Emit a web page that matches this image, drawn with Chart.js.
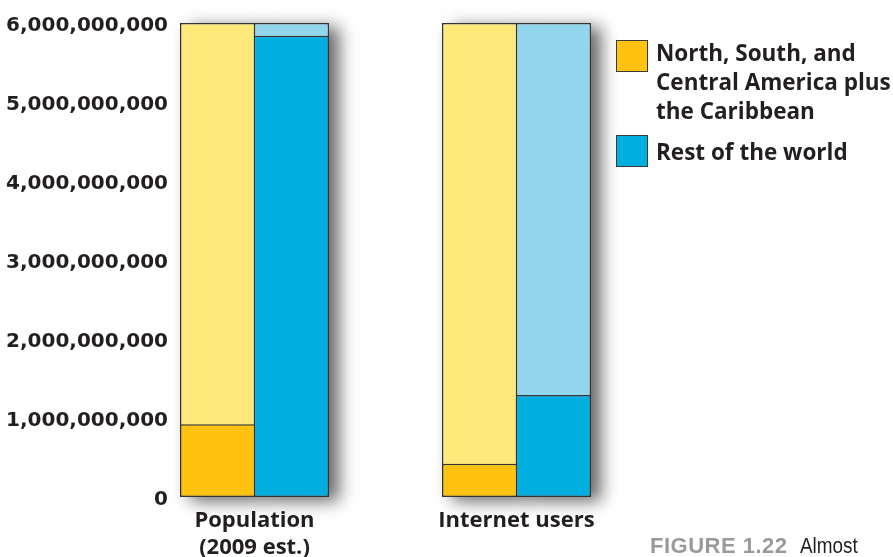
<!DOCTYPE html>
<html>
<head>
<meta charset="utf-8">
<script src="https://cdn.jsdelivr.net/npm/chart.js@4"></script>
<style>
  html, body { margin: 0; padding: 0; background: #fff; }
  #wrap { position: relative; width: 893px; height: 557px; overflow: hidden; }
  canvas { position: absolute; left: 0; top: 0; }
  .lg-box { position: absolute; width: 30px; height: 30px; border: 1.5px solid #3a3a3a; }
  .lg-text { position: absolute; font-family: "Open Sans", sans-serif; font-weight: 700; font-size: 22.5px; line-height: 29px; color: #231f20; white-space: nowrap; }
  #caption { position: absolute; left: 650px; top: 533px; white-space: nowrap; font-size: 22px; }
  #caption .fig { font-family: "Liberation Sans", Arial, sans-serif; font-weight: 700; color: #9a9a9a; letter-spacing: 0.5px; }
  #caption .txt { display: inline-block; font-family: "Liberation Sans", Arial, sans-serif; color: #231f20; margin-left: 12px; transform: scaleX(0.86); transform-origin: left center; }
</style>
</head>
<body>
<div id="wrap">
  <canvas id="c" width="893" height="557"></canvas>
  <div class="lg-box" style="left:616px; top:40px; background:#ffc20e;"></div>
  <div class="lg-text" style="left:656px; top:38px;">North, South, and<br>Central America plus<br>the Caribbean</div>
  <div class="lg-box" style="left:616px; top:135px; background:#00aee0;"></div>
  <div class="lg-text" style="left:656px; top:137px;">Rest of the world</div>
  <div id="caption"><span class="fig">FIGURE 1.22</span><span class="txt">Almost</span></div>
</div>
<script>
// ---- data ----
const categories = [['Population', '(2009 est.)'], 'Internet users'];
const americas = [0.92e9, 0.42e9];
const restOfWorld = [5.84e9, 1.29e9];
const fullScale = [6e9, 6e9];
const yTicks = [0, 1e9, 2e9, 3e9, 4e9, 5e9, 6e9];

const toPoints = arr => arr.map((v, i) => ({ x: i, y: v }));

// soft drop shadow behind the full-height bars (drawn before the bars themselves)
const shadowPlugin = {
  id: 'barShadow',
  beforeDatasetsDraw(chart) {
    const ctx = chart.ctx;
    chart.data.datasets.forEach((ds, i) => {
      if (!ds.castShadow) return;
      const meta = chart.getDatasetMeta(i);
      meta.data.forEach(el => {
        const p = el.getProps(['x', 'y', 'base', 'width'], true);
        ctx.save();
        ctx.shadowColor = 'rgba(0,0,0,0.6)';
        ctx.shadowBlur = 16;
        ctx.shadowOffsetX = 10;
        ctx.shadowOffsetY = 4;
        ctx.fillStyle = '#ffffff';
        ctx.fillRect(p.x - p.width / 2, p.y, p.width, p.base - p.y);
        ctx.restore();
      });
    });
  }
};

const common = { borderColor: '#333333', borderWidth: 1.5, borderSkipped: false, clip: false, inflateAmount: 0 };

new Chart(document.getElementById('c'), {
  type: 'bar',
  data: {
    datasets: [
      Object.assign({ label: 'North, South, and Central America plus the Caribbean', data: toPoints(americas), backgroundColor: '#ffc20e', stack: 'am', order: 0 }, common),
      Object.assign({ label: 'Rest of the world', data: toPoints(restOfWorld), backgroundColor: '#00aee0', stack: 'row', order: 0 }, common),
      Object.assign({ label: 'Americas (scale)', data: toPoints(fullScale), backgroundColor: '#fee97a', stack: 'am', order: 1, castShadow: true }, common),
      Object.assign({ label: 'Rest (scale)', data: toPoints(fullScale), backgroundColor: '#93d6ec', stack: 'row', order: 1, castShadow: true }, common)
    ]
  },
  options: {
    responsive: false,
    animation: false,
    events: [],
    layout: { padding: { top: 23, right: 283, bottom: 0, left: 0 } },
    plugins: { legend: { display: false }, tooltip: { enabled: false } },
    datasets: { bar: { categoryPercentage: 0.563, barPercentage: 1.02 } },
    scales: {
      x: {
        type: 'linear',
        offset: false,
        stacked: true,
        min: -0.2996,
        max: 1.3569,
        grid: { display: false, drawTicks: false },
        border: { display: false },
        afterFit(scale) { scale.height = 60; },
        ticks: {
          stepSize: 1,
          includeBounds: false,
          autoSkip: false,
          maxRotation: 0,
          padding: 11,
          color: '#231f20',
          font: { family: 'Open Sans', weight: 'bold', size: 22, lineHeight: 1.2 },
          callback: v => (Number.isInteger(v) && categories[v] !== undefined) ? categories[v] : ''
        }
      },
      y: {
        stacked: false,
        min: 0,
        max: 6e9,
        grid: { display: false, drawTicks: false },
        border: { display: false },
        afterFit(scale) { scale.width = 176; },
        afterBuildTicks(scale) { scale.ticks = yTicks.map(v => ({ value: v })); },
        ticks: {
          padding: 8,
          labelOffset: 3,
          color: '#231f20',
          font: { family: 'DejaVu Sans', weight: 'bold', size: 20 },
          callback: v => v.toLocaleString('en-US')
        }
      }
    }
  },
  plugins: [shadowPlugin]
});
</script>
</body>
</html>
